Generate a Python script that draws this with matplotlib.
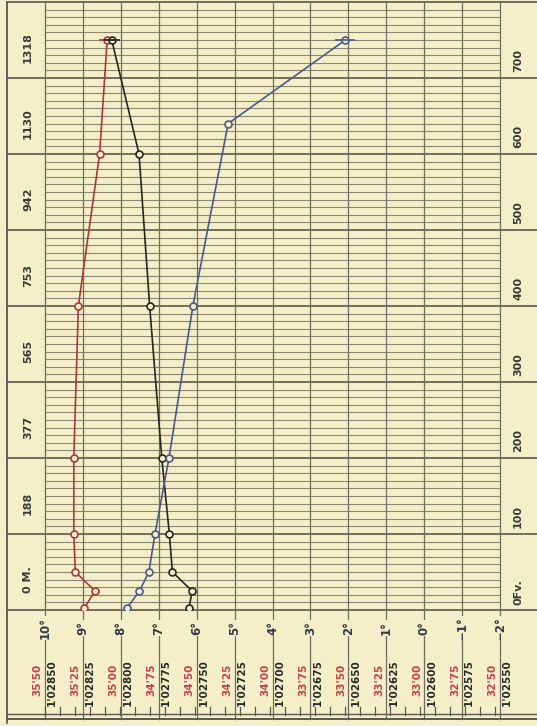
import numpy as np
import matplotlib.pyplot as plt

# observations (depth in fathoms)
depth_fv = [3, 25, 50, 100, 200, 400, 600, 750]
temp_depth = [3, 25, 50, 100, 200, 400, 640, 750]
temperature = [7.83, 7.51, 7.26, 7.10, 6.73, 6.10, 5.17, 2.08]
salinity = [35.24, 35.17, 35.30, 35.31, 35.31, 35.28, 35.14, 35.09]
density = [1.02755, 1.02753, 1.02766, 1.02768, 1.02773, 1.02781, 1.02788, 1.02806]

degrees = list(range(10, -3, -1))
deg_labels = ['10°', '9°', '8°', '7°', '6°', '5°', '4°', '3°', '2°', '1°', '0°', '−1°', '−2°']
sal_labels = ["35'50", "35'25", "35'00", "34'75", "34'50", "34'25", "34'00",
              "33'75", "33'50", "33'25", "33'00", "32'75", "32'50"]
dens_labels = ["1'02850", "1'02825", "1'02800", "1'02775", "1'02750", "1'02725", "1'02700",
               "1'02675", "1'02650", "1'02625", "1'02600", "1'02575", "1'02550"]
fathom_ticks = [0, 100, 200, 300, 400, 500, 600, 700]
fathom_labels = ['0Fv.', '100', '200', '300', '400', '500', '600', '700']
metre_labels = ['0 M.', '188', '377', '565', '753', '942', '1130', '1318']

bg = '#f4efc8'
major = '#5a574c'
vline = '#6f6c5e'
minor = '#8a8774'
red = '#a83a3c'
blue = '#4b5a8a'
black = '#262620'
lab_red = '#c2404a'
lab_dark = '#333a48'

# salinity / density scales share the temperature axis
sal_pos = [10 - (35.50 - s) / 0.25 for s in salinity]
dens_pos = [10 - (1.02850 - d) / 0.00025 for d in density]

fig = plt.figure(figsize=(5.37, 7.26), dpi=100, facecolor=bg)
ax = fig.add_axes([45 / 537, 1 - 610 / 726, 455 / 537, 608 / 726])
ax.set_facecolor(bg)
ax.set_xlim(10, -2)
ax.set_ylim(0, 800)
ax.set_xticks([])
ax.set_yticks([])
for s in ax.spines.values():
    s.set_visible(False)

xl, xr = (7 - 45) / 455, (537 - 45) / 455
yb1, yb2 = (610 - 714) / 608, (610 - 719) / 608
ytr = ax.get_yaxis_transform()
xtr = ax.get_xaxis_transform()

# fine lines every 10 fathoms
for d in range(10, 800, 10):
    if d % 100:
        ax.axhline(d, color=minor, lw=0.8, zorder=1)

# heavy lines every 100 fathoms
for d in range(0, 801, 100):
    ax.plot([xl, xr], [d, d], transform=ytr, clip_on=False, color=major, lw=1.2, zorder=2)

# degree lines, down through the label strip
for t in degrees:
    ax.plot([t, t], [yb2, 1], transform=xtr, clip_on=False, color=vline, lw=0.9, zorder=2)
ax.plot([xl, xl], [yb2 - 0.006, 1], transform=ax.transAxes, clip_on=False, color=major, lw=1.3)
ax.plot([xl, xr], [yb1, yb1], transform=ax.transAxes, clip_on=False, color=major, lw=1.0)
ax.plot([xl, xr], [yb2, yb2], transform=ax.transAxes, clip_on=False, color=major, lw=1.4)

# small ticks at the bottom edge
for t in np.arange(10, -2.01, -0.396):
    ax.plot([t, t], [yb1 - 0.001, (610 - 707) / 608], transform=xtr, clip_on=False,
            color=major, lw=0.9)

# labels
for t, dl, sl, rl in zip(degrees, deg_labels, sal_labels, dens_labels):
    ax.text(t, -0.03, dl, transform=xtr, rotation=90, ha='center', va='center',
            fontsize=8.5, color=lab_dark, fontweight='bold',
            bbox=dict(facecolor=bg, edgecolor='none', pad=0.6))
    ax.text(t + 0.19, -0.115, sl, transform=xtr, rotation=90, ha='center', va='center',
            fontsize=7.5, color=lab_red, fontweight='bold')
    ax.text(t - 0.19, -0.119, rl, transform=xtr, rotation=90, ha='center', va='center',
            fontsize=7.5, color='#2b2b26', fontweight='bold')

for d, fl, ml in zip(fathom_ticks, fathom_labels, metre_labels):
    ax.text((518 - 45) / 455, d + 23, fl, transform=ytr, rotation=90, ha='center',
            va='center', fontsize=8, color='#3a3a32', fontweight='bold')
    ax.text((28 - 45) / 455, d + 40, ml, transform=ytr, rotation=90, ha='center',
            va='center', fontsize=8, color='#3a3a32', fontweight='bold')

# curves
mk = dict(marker='o', markersize=5, markerfacecolor=bg, markeredgewidth=1.2, lw=1.2, zorder=5)
ax.plot(sal_pos, depth_fv, color=red, **mk)
ax.plot(dens_pos, depth_fv, color=black, **mk)
ax.plot(temperature, temp_depth, color=blue, **mk)
ax.plot(sal_pos[-1], depth_fv[-1], marker='_', markersize=12, color=red, mew=1.2, zorder=6)
ax.plot(dens_pos[-1], depth_fv[-1], marker='_', markersize=12, color=black, mew=1.2, zorder=6)
ax.plot(temperature[-1], temp_depth[-1], marker='_', markersize=14, color=blue, mew=1.2, zorder=6)

plt.savefig('out.png', dpi=100, facecolor=bg)
